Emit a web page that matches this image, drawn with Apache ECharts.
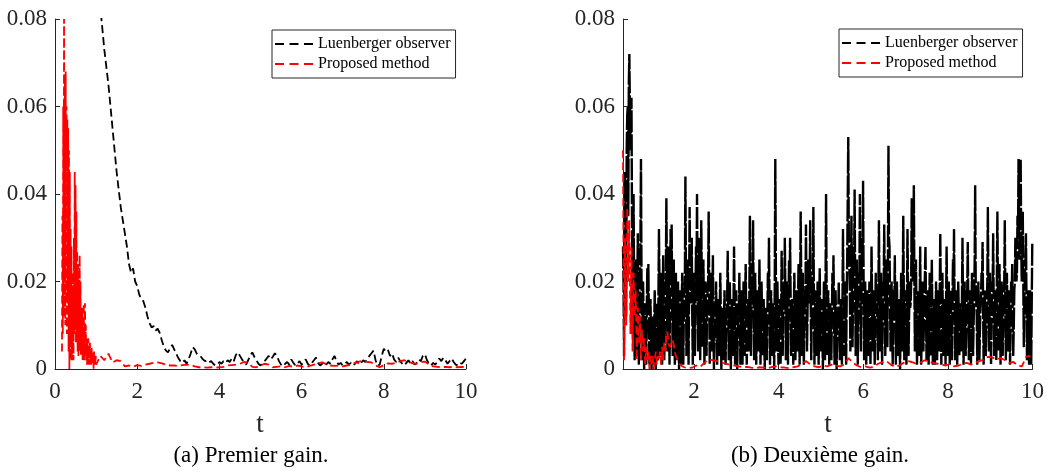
<!DOCTYPE html>
<html>
<head>
<meta charset="utf-8">
<script src="https://cdn.jsdelivr.net/npm/echarts@6/dist/echarts.min.js"></script>
<style>
html,body{margin:0;padding:0;background:#fff;}
#chart{width:1047px;height:471px;}
</style>
</head>
<body>
<div id="chart"></div>
<script>
// ---------- DATA ----------
const seriesNames = ['Luenberger observer', 'Proposed method'];
const xTicks = [0, 2, 4, 6, 8, 10];
const xTicksRight = [2, 4, 6, 8, 10];
const yTicks = [0, 0.02, 0.04, 0.06, 0.08];
const captions = ['(a) Premier gain.', '(b) Deuxième gain.'];
const axisTitle = 't';

// Left panel (Premier gain), Luenberger observer: t = 1.00, 1.05, ... 10.00
const leftBlackT0 = 1.0, leftBlackDt = 0.05;
const leftBlack = [
 .095,.089,.083,.078,.073,.069,.065,.060,.055,.050,
 .045,.041,.037,.034,.031,.028,.024,.022,.023,.020,
 .019,.017,.016,.0155,.014,.012,.0105,.0095,.0098,.0088,
 .0092,.0082,.0065,.005,.0042,.0038,.0048,.0055,.0045,.0035,
 .0025,.0018,.0014,.0020,.0012,.0022,.0035,.005,.0045,.0035,
 .0030,.0028,.0022,.0018,.0020,.0015,.0018,.0012,.0008,.0010,
 .0016,.0012,.0018,.0014,.0020,.0016,.0024,.0018,.0032,.0038,
 .0030,.0022,.0015,.0010,.0020,.0030,.0038,.0028,.0020,.0012,
 .0008,.0014,.0018,.0024,.0030,.0022,.0028,.0036,.0030,.0018,
 .0010,.0006,.0012,.0016,.0010,.0022,.0014,.0008,.0012,.0018,
 .0010,.0016,.0022,.0012,.0008,.0014,.0020,.0026,.0014,.0008,
 .0012,.0018,.0010,.0016,.0012,.0022,.0030,.0018,.0010,.0014,
 .0008,.0012,.0016,.0010,.0014,.0008,.0012,.0018,.0010,.0014,
 .0020,.0016,.0024,.0030,.0036,.0042,.0020,.0008,.0010,.0030,
 .0046,.0040,.0044,.0030,.0036,.0022,.0016,.0026,.0018,.0012,
 .0008,.0014,.0020,.0012,.0018,.0010,.0014,.0022,.0018,.0030,
 .0034,.0020,.0012,.0008,.0014,.0010,.0016,.0024,.0018,.0026,
 .0020,.0012,.0018,.0024,.0016,.0010,.0008,.0014,.0012,.0018,
 .0024
];

// Left panel, Proposed method, fast part: t = 0.17, 0.18, ... 1.00
const leftRedT0 = 0.17, leftRedDt = 0.01;
const leftRed = [
 .004,.035,.008,.060,.012,.080,.020,.066,.010,.068,
 .015,.060,.008,.057,.015,.055,.004,.050,.000,.045,
 .002,.032,.006,.028,.002,.022,.004,.018,.002,.030,
 .008,.045,.010,.042,.006,.036,.008,.027,.004,.024,
 .003,.020,.006,.026,.004,.020,.003,.012,.004,.014,
 .002,.010,.003,.015,.002,.012,.015,.003,.010,.002,
 .007,.001,.006,.002,.007,.001,.005,.001,.006,.002,
 .004,.001,.005,.002,.004,.001,.003,.000,.004,.001,
 .003,.001,.003,.001
];
// Left panel, Proposed method, slow part: t = 1.1, 1.2, ... 10.0
const leftRedTailT0 = 1.1, leftRedTailDt = 0.1;
const leftRedTail = [
 .003,.002,.0035,.0015,.002,.0018,.0006,.0008,.0005,.0009,
 .0007,.0010,.0012,.0014,.0015,.0013,.0010,.0008,.0008,.0007,
 .0009,.0010,.0009,.0006,.0004,.0004,.0003,.0004,.0003,.0004,
 .0005,.0008,.0009,.0010,.0012,.0016,.0014,.0005,.0004,.0008,
 .0012,.0010,.0004,.0005,.0006,.0004,.0007,.0005,.0008,.0006,
 .0004,.0007,.0010,.0013,.0015,.0011,.0008,.0007,.0008,.0006,
 .0008,.0010,.0014,.0017,.0019,.0016,.0015,.0008,.0004,.0009,
 .0013,.0012,.0014,.0018,.0020,.0016,.0013,.0012,.0016,.0017,
 .0010,.0006,.0005,.0004,.0005,.0004,.0005,.0004,.0005,.0004
];

// Right panel (Deuxième gain), Luenberger observer, samples A: t = 0.32, 0.345, ... 9.995
const rightBlackT0 = 0.32, rightBlackDt = 0.025;
const rightBlack = [
 .028,.003,.045,.012,.058,.035,.072,.050,
 .062,.008,.040,.002,.025,.003,.031,.001,
 .018,.048,.002,.020,.000,.015,.001,.023,
 .024,.001,.016,.000,.012,.001,.018,.000,
 .015,.002,.032,.003,.022,.001,.026,.002,
 .012,.039,.004,.028,.001,.032,.033,.003,
 .025,.001,.022,.002,.020,.000,.018,.001,
 .022,.001,.018,.044,.003,.025,.001,.037,
 .015,.030,.001,.022,.003,.028,.040,.004,
 .030,.002,.034,.005,.025,.001,.020,.003,
 .018,.036,.001,.022,.004,.026,.000,.015,
 .020,.001,.016,.003,.022,.000,.014,.002,
 .018,.001,.012,.027,.002,.020,.000,.016,
 .003,.028,.001,.018,.000,.015,.022,.001,
 .018,.001,.020,.003,.024,.001,.016,.004,
 .035,.003,.020,.034,.002,.022,.001,.018,
 .004,.025,.001,.020,.003,.016,.000,.014,
 .002,.022,.030,.001,.018,.003,.015,.000,
 .048,.004,.020,.001,.016,.001,.027,.003,
 .018,.030,.002,.020,.001,.025,.030,.003,
 .016,.001,.022,.002,.018,.004,.024,.001,
 .036,.003,.022,.001,.018,.033,.004,.025,
 .015,.034,.002,.020,.037,.001,.018,.003,
 .020,.001,.023,.004,.016,.000,.020,.002,
 .040,.003,.018,.001,.015,.002,.022,.026,
 .001,.018,.000,.014,.020,.002,.016,.001,
 .032,.003,.020,.001,.025,.053,.030,.004,
 .035,.005,.028,.041,.003,.025,.001,.022,
 .040,.004,.030,.043,.002,.020,.001,.018,
 .003,.020,.001,.028,.004,.018,.001,.022,
 .015,.002,.034,.004,.022,.001,.020,.033,
 .003,.025,.005,.051,.028,.004,.020,.001,
 .018,.026,.001,.020,.003,.016,.000,.022,
 .004,.035,.002,.018,.001,.032,.003,.020,
 .015,.039,.020,.042,.004,.025,.001,.018,
 .003,.028,.001,.020,.004,.016,.028,.002,
 .018,.001,.022,.003,.025,.001,.016,.001,
 .020,.002,.018,.004,.031,.001,.022,.003,
 .016,.001,.028,.003,.020,.001,.018,.002,
 .025,.032,.002,.018,.001,.020,.003,.015,
 .004,.030,.001,.020,.003,.016,.029,.002,
 .018,.001,.022,.003,.016,.042,.020,.001,
 .020,.002,.014,.022,.029,.001,.018,.003,
 .015,.037,.004,.022,.001,.020,.031,.003,
 .018,.002,.036,.004,.024,.001,.020,.003,
 .016,.034,.002,.022,.004,.018,.001,.020,
 .024,.003,.018,.030,.020,.035,.048,.025,
 .048,.020,.036,.005,.022,.031,.002,.018,
 .001,.018,.001,.029
];
// Right panel, Luenberger observer, samples B (in between A): t = 0.3325, 0.3575, ...
const rightBlackMidT0 = 0.3325, rightBlackMidDt = 0.025;
const rightBlackMid = [
 .020,.030,.035,.050,.060,.065,.060,.055,
 .035,.025,.018,.015,.012,.018,.010,.014,
 .030,.020,.012,.010,.008,.012,.014,.016,
 .010,.008,.006,.008,.007,.010,.009,.012,
 .010,.016,.018,.012,.010,.014,.015,.009,
 .020,.022,.016,.012,.018,.020,.014,.016,
 .012,.010,.014,.009,.011,.008,.012,.015,
 .010,.012,.020,.022,.014,.016,.018,.020,
 .018,.012,.014,.016,.015,.020,.018,.022,
 .016,.018,.020,.012,.014,.010,.012,.015,
 .020,.018,.014,.012,.016,.010,.008,.012,
 .010,.012,.009,.014,.012,.008,.010,.012,
 .009,.010,.016,.014,.012,.010,.009,.012,
 .014,.016,.010,.009,.008,.012,.010,.013,
 .010,.012,.014,.016,.012,.010,.014,.018,
 .020,.016,.018,.015,.012,.010,.012,.010,
 .012,.014,.010,.012,.010,.008,.009,.011,
 .012,.016,.015,.010,.012,.009,.008,.020,
 .025,.016,.012,.010,.008,.012,.015,.014,
 .016,.018,.012,.014,.015,.018,.016,.012,
 .010,.012,.014,.010,.012,.016,.014,.018,
 .020,.016,.012,.010,.016,.018,.014,.016,
 .018,.015,.012,.018,.016,.010,.012,.014,
 .012,.014,.010,.012,.009,.010,.012,.018,
 .020,.014,.010,.008,.009,.012,.015,.014,
 .010,.009,.008,.012,.010,.012,.009,.014,
 .016,.014,.012,.016,.025,.030,.018,.020,
 .018,.016,.022,.020,.016,.014,.012,.020,
 .022,.018,.024,.020,.012,.010,.012,.010,
 .012,.010,.014,.016,.012,.010,.012,.014,
 .010,.018,.016,.014,.012,.010,.018,.016,
 .014,.016,.025,.030,.016,.012,.010,.012,
 .014,.012,.010,.012,.009,.008,.012,.010,
 .016,.018,.010,.009,.016,.018,.012,.014,
 .020,.025,.028,.020,.016,.012,.010,.012,
 .014,.012,.010,.012,.010,.016,.014,.012,
 .010,.012,.014,.016,.012,.008,.009,.010,
 .012,.010,.014,.018,.016,.012,.010,.012,
 .009,.016,.014,.012,.010,.009,.010,.014,
 .018,.016,.010,.009,.010,.012,.009,.008,
 .016,.014,.010,.012,.009,.018,.014,.012,
 .010,.012,.014,.010,.024,.020,.012,.010,
 .012,.009,.016,.020,.014,.010,.012,.010,
 .020,.018,.012,.010,.012,.018,.016,.012,
 .010,.020,.018,.016,.012,.010,.012,.010,
 .020,.016,.012,.014,.010,.009,.012,.016,
 .012,.010,.020,.024,.022,.030,.032,.035,
 .030,.025,.020,.016,.024,.016,.010,.009,
 .010,.009,.016
];

// Right panel, Proposed method, fast part: t = 0.32, 0.345, ... 1.795
const rightRedT0 = 0.32, rightRedDt = 0.025;
const rightRed = [
 .050,.002,.030,.010,.037,.020,.034,.008,.028,.004,
 .022,.012,.018,.002,.014,.006,.012,.002,.009,.004,
 .007,.001,.005,.002,.004,.000,.003,.001,.003,.000,
 .002,.004,.001,.003,.002,.004,.001,.005,.002,.006,
 .004,.008,.0085,.006,.005,.0055,.006,.0066,.0055,.004,
 .003,.0025,.002,.0015,.001,.0012,.0006,.0003,.0004,.0002
];
// Right panel, Proposed method, slow part: t = 1.85, 1.95, ... 9.95
const rightRedTailT0 = 1.85, rightRedTailDt = 0.1;
const rightRedTail = [
 .0002,.0003,.0008,.0005,.0015,.0022,.0020,.0018,.0015,.0012,
 .0010,.0008,.0006,.0004,.0005,.0003,.0002,.0004,.0003,.0002,
 .0005,.0006,.0004,.0003,.0002,.0004,.0006,.0012,.0018,.0010,
 .0006,.0004,.0008,.0006,.0010,.0008,.0006,.0010,.0025,.0015,
 .0008,.0004,.0006,.0003,.0005,.0012,.0016,.0018,.0010,.0005,
 .0008,.0014,.0018,.0016,.0012,.0015,.0020,.0016,.0014,.0012,
 .0010,.0008,.0012,.0006,.0008,.0012,.0014,.0010,.0015,.0018,
 .0022,.0028,.0026,.0022,.0025,.0020,.0014,.0016,.0008,.0006,
 .0028,.0030
];

// ---------- BUILD ----------
function pairs(t0, dt, vals) {
  return vals.map((v, i) => [+(t0 + i * dt).toFixed(4), v]);
}
const leftBlackData = pairs(leftBlackT0, leftBlackDt, leftBlack);
const leftRedData = pairs(leftRedT0, leftRedDt, leftRed)
  .concat(pairs(leftRedTailT0, leftRedTailDt, leftRedTail));
const rightBlackData = pairs(rightBlackT0, rightBlackDt, rightBlack)
  .concat(pairs(rightBlackMidT0, rightBlackMidDt, rightBlackMid))
  .filter(p => p[0] <= 10)
  .sort((a, b) => a[0] - b[0]);
const rightRedData = pairs(rightRedT0, rightRedDt, rightRed)
  .concat(pairs(rightRedTailT0, rightRedTailDt, rightRedTail));

const FONT = '"Liberation Serif", "Times New Roman", serif';
const AXC = '#262626';
const DASH = [8, 4];
const DENSE_DASH = [22, 2];
const DASH_ICON = 'path://M0,0h9v2h-9z M14.5,0h9v2h-9z M29,0h9v2h-9z';

function xAxisCfg(idx, min, ticks) {
  return {
    type: 'value', gridIndex: idx, min: min, max: 10,
    axisLine: {show: true, onZero: false, lineStyle: {color: AXC, width: 1}},
    axisTick: {show: true, inside: true, length: 5, lineStyle: {color: AXC}, customValues: ticks},
    axisLabel: {show: true, margin: 11, color: AXC, fontFamily: FONT, fontSize: 23, customValues: ticks},
    splitLine: {show: false}
  };
}
function yAxisCfg(idx) {
  return {
    type: 'value', gridIndex: idx, min: 0, max: 0.08, interval: 0.02,
    axisLine: {show: true, onZero: false, lineStyle: {color: AXC, width: 1}},
    axisTick: {show: true, inside: true, length: 5, lineStyle: {color: AXC}},
    axisLabel: {show: true, margin: 8, color: AXC, fontFamily: FONT, fontSize: 23,
      formatter: v => { const t = yTicks.find(y => Math.abs(y - v) < 1e-9); return t === 0 ? '0' : String(t); }},
    splitLine: {show: false}
  };
}
function legendCfg(left, top) {
  return {
    left: left, top: top, orient: 'vertical',
    data: seriesNames.map(n => ({name: n, icon: DASH_ICON})),
    backgroundColor: '#fff',
    borderColor: AXC, borderWidth: 1, borderRadius: 0,
    padding: [6, 5, 6, 3], itemGap: 4,
    itemWidth: 38, itemHeight: 2,
    selectedMode: false,
    textStyle: {fontFamily: FONT, fontSize: 16, color: '#000'}
  };
}
function lineSeries(name, idx, data, color, width, dash) {
  return {
    name: name, type: 'line', xAxisIndex: idx, yAxisIndex: idx,
    data: data, showSymbol: false, symbol: 'none', clip: true,
    lineStyle: {color: color, width: width, type: dash},
    itemStyle: {color: color},
    animation: false
  };
}

const chart = echarts.init(document.getElementById('chart'), null, {renderer: 'canvas'});
chart.setOption({
  animation: false,
  backgroundColor: '#fff',
  grid: [
    {left: 55, top: 19, width: 411, height: 350},
    {left: 623, top: 19, width: 410, height: 350}
  ],
  xAxis: [xAxisCfg(0, 0, xTicks), xAxisCfg(1, 0.32, xTicksRight)],
  yAxis: [yAxisCfg(0), yAxisCfg(1)],
  legend: [legendCfg(272, 30), legendCfg(839, 29)],
  series: [
    lineSeries(seriesNames[0], 0, leftBlackData, '#000000', 1.8, DASH),
    lineSeries(seriesNames[1], 0, leftRedData, '#ff0000', 1.8, DASH),
    lineSeries(seriesNames[0], 1, rightBlackData, '#000000', 2.4, DENSE_DASH),
    lineSeries(seriesNames[1], 1, rightRedData, '#ff0000', 1.8, DASH)
  ],
  graphic: [
    {type: 'text', x: 260, y: 425, style: {text: axisTitle, font: '27px "Liberation Serif"', fill: AXC, textAlign: 'center', textVerticalAlign: 'middle'}},
    {type: 'text', x: 828, y: 425, style: {text: axisTitle, font: '27px "Liberation Serif"', fill: AXC, textAlign: 'center', textVerticalAlign: 'middle'}},
    {type: 'text', x: 251, y: 456, style: {text: captions[0], font: '23px "Liberation Serif"', fill: '#000', textAlign: 'center', textVerticalAlign: 'middle'}},
    {type: 'text', x: 820, y: 456, style: {text: captions[1], font: '23px "Liberation Serif"', fill: '#000', textAlign: 'center', textVerticalAlign: 'middle'}}
  ]
});
</script>
</body>
</html>
